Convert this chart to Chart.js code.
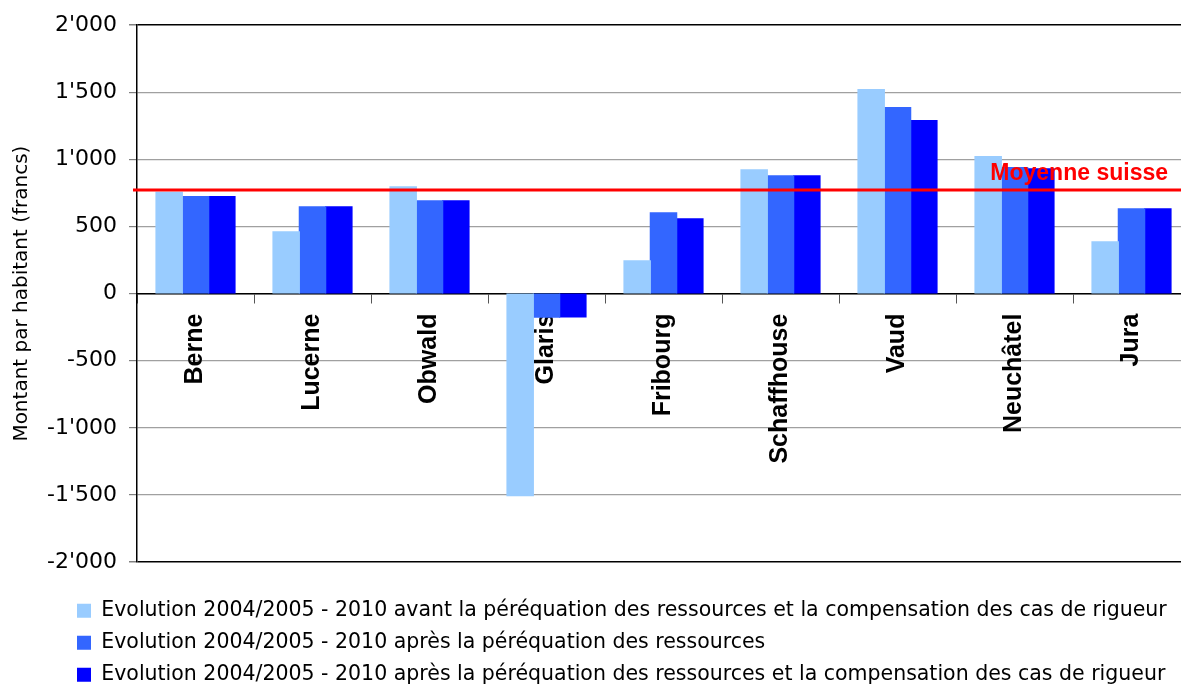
<!DOCTYPE html>
<html>
<head>
<meta charset="utf-8">
<title>Evolution par canton</title>
<script src="https://cdn.jsdelivr.net/npm/chart.js@4.4.1/dist/chart.umd.min.js"></script>
<style>
html, body { margin: 0; padding: 0; background: #fff; overflow: hidden; }
canvas { display: block; }
</style>
</head>
<body>
<canvas id="chart" width="1200" height="684"></canvas>
<script>
//categories (cantons)
const cantons = ['Berne', 'Lucerne', 'Obwald', 'Glaris', 'Fribourg', 'Schaffhouse', 'Vaud', 'Neuchâtel', 'Jura'];

//montant par habitant en francs, one array per series
const avantPereq = [754, 460, 796, -1505, 244, 923, 1520, 1020, 386];
const apresRessources = [722, 647, 692, -176, 602, 878, 1386, 938, 632];
const apresRigueur = [722, 647, 692, -173, 557, 878, 1289, 930, 632];

const seriesNames = [
    'Evolution 2004/2005 - 2010 avant la péréquation des ressources et la compensation des cas de rigueur',
    'Evolution 2004/2005 - 2010 après la péréquation des ressources',
    'Evolution 2004/2005 - 2010 après la péréquation des ressources et la compensation des cas de rigueur'
];

//swiss average line
const moyenneSuisse = 772;
const moyenneLabel = 'Moyenne suisse';

//y axis range and tick step
const yMin = -2000;
const yMax = 2000;
const yStep = 500;
const yTitle = 'Montant par habitant (francs)';

const colours = ['#99ccff', '#3366ff', '#0000ff'];

//2000 -> 2'000
function formatFrancs(v) {
    let s = Math.abs(v).toString().replace(/\B(?=(\d{3})+(?!\d))/g, "'");
    return (v < 0 ? '-' : '') + s;
}

Chart.defaults.font.family = '"DejaVu Sans", sans-serif';
Chart.defaults.color = '#000';

//red average line + its label, drawn over the bars
const moyennePlugin = {
    id: 'moyenne',
    afterDatasetsDraw(chart) {
        const {ctx, chartArea, scales} = chart;
        const py = scales.y.getPixelForValue(moyenneSuisse);
        ctx.save();
        ctx.strokeStyle = '#ff0000';
        ctx.lineWidth = 3;
        ctx.beginPath();
        ctx.moveTo(chartArea.left - 4, py);
        ctx.lineTo(chartArea.right, py);
        ctx.stroke();
        ctx.fillStyle = '#ff0000';
        ctx.font = 'bold 23px "Liberation Sans", Arial, sans-serif';
        ctx.textAlign = 'right';
        ctx.textBaseline = 'alphabetic';
        ctx.fillText(moyenneLabel, chartArea.right - 22, py - 10);
        ctx.restore();
    }
};

//legend sits left aligned under the plot, not where chart.js puts it
const legendPlacement = {
    id: 'legendPlacement',
    afterLayout(chart) {
        const lg = chart.legend;
        const h = lg.height;
        lg.left = chart.chartArea.left - 71.5;
        lg.top = chart.chartArea.bottom + 27;
        lg.bottom = lg.top + h;
    }
};

const ctx = document.getElementById('chart').getContext('2d');
new Chart(ctx, {
    type: 'bar',
    data: {
        labels: cantons,
        datasets: [
            { label: seriesNames[0], data: avantPereq, backgroundColor: colours[0], borderWidth: 0 },
            { label: seriesNames[1], data: apresRessources, backgroundColor: colours[1], borderWidth: 0 },
            { label: seriesNames[2], data: apresRigueur, backgroundColor: colours[2], borderWidth: 0 }
        ]
    },
    options: {
        responsive: false,
        animation: false,
        layout: { padding: { left: 0, right: 10, top: 24, bottom: 16 } },
        datasets: { bar: { categoryPercentage: 0.675, barPercentage: 1, inflateAmount: 0.6 } },
        plugins: {
            tooltip: { enabled: false },
            legend: {
                position: 'bottom',
                align: 'start',
                labels: {
                    boxWidth: 14,
                    boxHeight: 14,
                    padding: 11.5,
                    color: '#000',
                    font: { size: 20.5 }
                }
            }
        },
        scales: {
            x: {
                position: { y: 0 },
                border: { color: '#000', width: 1.5 },
                grid: { drawOnChartArea: false, offset: true, tickLength: 9, color: '#555' },
                ticks: {
                    autoSkip: false,
                    minRotation: 90,
                    maxRotation: 90,
                    padding: 11,
                    color: '#000',
                    font: { family: '"Liberation Sans", Arial, sans-serif', size: 25, weight: 'bold' }
                }
            },
            y: {
                min: yMin,
                max: yMax,
                afterFit: function(scale) { scale.width = 137; },
                border: { color: '#000', width: 1.5 },
                grid: {
                    tickLength: 8,
                    tickColor: '#808080',
                    color: (c) => (c.tick && (c.tick.value === yMin || c.tick.value === yMax)) ? '#000' : '#a0a0a0',
                    lineWidth: (c) => (c.tick && (c.tick.value === yMin || c.tick.value === yMax)) ? 1.5 : 1.2
                },
                ticks: {
                    stepSize: yStep,
                    padding: 12,
                    color: '#000',
                    font: { size: 22 },
                    callback: (v) => formatFrancs(v)
                },
                title: {
                    display: true,
                    text: yTitle,
                    color: '#000',
                    font: { size: 20 },
                    padding: { top: 10, bottom: 0 }
                }
            }
        }
    },
    plugins: [moyennePlugin, legendPlacement]
});
</script>
</body>
</html>
